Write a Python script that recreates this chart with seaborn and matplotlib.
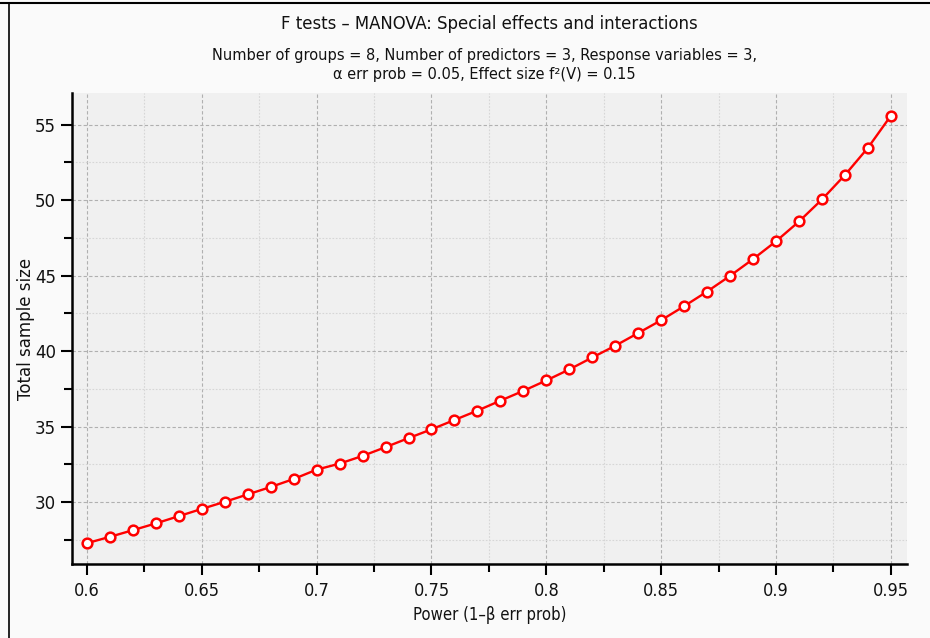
import matplotlib
matplotlib.use("Agg")
import matplotlib.pyplot as plt
from matplotlib.ticker import MultipleLocator
from matplotlib.lines import Line2D
import seaborn as sns
import pandas as pd

power = [0.60, 0.61, 0.62, 0.63, 0.64, 0.65, 0.66, 0.67, 0.68, 0.69,
         0.70, 0.71, 0.72, 0.73, 0.74, 0.75, 0.76, 0.77, 0.78, 0.79,
         0.80, 0.81, 0.82, 0.83, 0.84, 0.85, 0.86, 0.87, 0.88, 0.89,
         0.90, 0.91, 0.92, 0.93, 0.94, 0.95]
sample_size = [27.28, 27.70, 28.14, 28.59, 29.07, 29.55, 30.02, 30.51, 31.00, 31.53,
               32.15, 32.55, 33.06, 33.64, 34.24, 34.82, 35.44, 36.06, 36.72, 37.37,
               38.06, 38.79, 39.58, 40.36, 41.20, 42.05, 42.98, 43.95, 44.99, 46.10,
               47.28, 48.59, 50.05, 51.67, 53.47, 55.60]
x_ticks = [0.6, 0.65, 0.7, 0.75, 0.8, 0.85, 0.9, 0.95]
x_tick_labels = ["0.6", "0.65", "0.7", "0.75", "0.8", "0.85", "0.9", "0.95"]
y_ticks = [30, 35, 40, 45, 50, 55]

title = "F tests \u2013 MANOVA: Special effects and interactions"
subtitle = ("Number of groups = 8, Number of predictors = 3, Response variables = 3,\n"
            "\u03b1 err prob = 0.05, Effect size f\u00b2(V) = 0.15")
x_label = "Power (1\u2013\u03b2 err prob)"
y_label = "Total sample size"

sns.set_theme(style="white")
plt.rcParams['font.family'] = ['DejaVu Sans']

cond = dict(fontstretch="condensed")

df = pd.DataFrame({"power": power, "n": sample_size})

fig = plt.figure(figsize=(9.30, 6.38), dpi=100, facecolor="#fafafa")
ax = fig.add_axes([72/930, 1-564/638, (907-72)/930, (564-93)/638])
ax.set_facecolor("#f0f0f0")

sns.lineplot(data=df, x="power", y="n", ax=ax, color="#ff0000", linewidth=1.7,
             marker="o", markersize=7, markerfacecolor="white",
             markeredgecolor="#ff0000", markeredgewidth=1.8, zorder=5)

ax.set_xlim(0.5935, 0.957)
ax.set_ylim(25.9, 57.1)
ax.xaxis.set_minor_locator(MultipleLocator(0.025))
ax.set_yticks(y_ticks)
ax.yaxis.set_minor_locator(MultipleLocator(2.5))

ax.grid(True, which="major", color="#b0b0b0", linestyle=(0, (3, 2)), linewidth=0.8)
ax.grid(True, which="minor", color="#d6d6d6", linestyle=(0, (1.5, 1.5)), linewidth=0.8)
ax.set_axisbelow(True)

for s in ["top", "right"]:
    ax.spines[s].set_visible(False)
for s in ["left", "bottom"]:
    ax.spines[s].set_color("black")
    ax.spines[s].set_linewidth(1.8)

ax.tick_params(axis="both", which="major", direction="out", length=8, width=1.5,
               color="black", labelsize=12, labelcolor="#111111", bottom=True, left=True)
ax.tick_params(axis="x", which="major", pad=5)
ax.tick_params(axis="both", which="minor", direction="out", length=6, width=1.5,
               color="black", bottom=True, left=True)

ax.set_xticks(x_ticks)
ax.set_xticklabels(x_tick_labels, fontsize=13, fontstretch="condensed", color="#111111")

ax.set_xlabel(x_label, fontsize=12, color="#111111", labelpad=4, **cond)
ax.set_ylabel(y_label, fontsize=12, color="#111111", labelpad=0)

cx = (72 + 907) / 2 / 930
fig.text(cx, 1 - 24/638, title, ha="center", va="center", fontsize=13.2,
         color="#111111", **cond)
fig.text(cx - 5/930, 1 - 65/638, subtitle, ha="center", va="center", fontsize=11.7,
         color="#111111", linespacing=1.3, **cond)

fig.add_artist(Line2D([0, 1], [1 - 3/638, 1 - 3/638], transform=fig.transFigure,
                      color="black", linewidth=1.5))
fig.add_artist(Line2D([9/930, 9/930], [0, 1 - 3/638], transform=fig.transFigure,
                      color="black", linewidth=1.2))

fig.savefig("out.png", dpi=100, facecolor=fig.get_facecolor())
